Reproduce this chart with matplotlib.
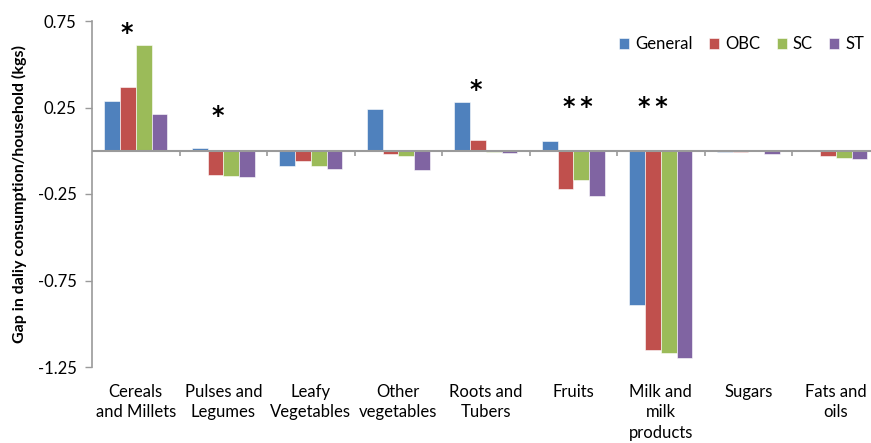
import matplotlib
matplotlib.use('Agg')
import matplotlib.pyplot as plt
import numpy as np

categories = ['Cereals\nand Millets', 'Pulses and\nLegumes', 'Leafy\nVegetables', 'Other\nvegetables',
              'Roots and\nTubers', 'Fruits', 'Milk and\nmilk\nproducts', 'Sugars', 'Fats and\noils']
series = ['General', 'OBC', 'SC', 'ST']
general = [0.29, 0.015, -0.09, 0.24, 0.28, 0.054, -0.894, -0.005, -0.002]
obc = [0.37, -0.14, -0.06, -0.017, 0.06, -0.22, -1.154, -0.005, -0.03]
sc = [0.61, -0.145, -0.09, -0.033, -0.01, -0.17, -1.167, -0.002, -0.04]
st = [0.21, -0.15, -0.105, -0.11, -0.013, -0.26, -1.20, -0.017, -0.046]
colors = ['#4F81BD', '#C0504D', '#9BBB59', '#8064A2']

# significance markers: (category index, marker text, y position)
sig_idx = [0, 1, 4, 5, 6]
sig_text = ['*', '*', '*', '*\u2009*', '*\u2009*']
sig_y = [0.68, 0.20, 0.35, 0.25, 0.25]
sig_dx = [-0.10, -0.06, -0.11, 0.05, -0.09]

yticks = [0.75, 0.25, -0.25, -0.75, -1.25]

plt.rcParams['font.family'] = ['Lato', 'DejaVu Sans']
fig = plt.figure(figsize=(8.71, 4.43), dpi=100)
ax = fig.add_axes([92 / 871, 76 / 443, 787.5 / 871, 346 / 443])

x = np.arange(len(categories))
width = 0.18
data = [general, obc, sc, st]
for i, (name, vals) in enumerate(zip(series, data)):
    ax.bar(x + (i - 1.5) * width, vals, width, color=colors[i], label=name,
           edgecolor='white', linewidth=0.4)

ax.set_xlim(-0.5, len(categories) - 0.5)
ax.set_ylim(-1.25, 0.75)
ax.set_yticks(yticks)
ax.set_yticklabels([f'{v:.2f}' for v in yticks], fontsize=12)
ax.tick_params(axis='y', length=5, color='#9A9A9A', width=1, pad=6)

ax.set_xticks(x)
ax.set_xticklabels(categories, fontsize=12, linespacing=1.35, va='top')
ax.tick_params(axis='x', length=0, pad=12)

for s in ['top', 'right', 'bottom']:
    ax.spines[s].set_visible(False)
ax.spines['left'].set_color('#9A9A9A')
ax.spines['left'].set_linewidth(1.2)

ax.axhline(0, color='#9A9A9A', linewidth=1.5, zorder=3)
bounds = np.arange(len(categories) + 1) - 0.5
ax.vlines(bounds[1:], -0.03, 0, color='#9A9A9A', linewidth=1.2)

for i, t, yv, dx in zip(sig_idx, sig_text, sig_y, sig_dx):
    ax.text(i + dx, yv, t, ha='center', va='center', fontsize=17,
            fontweight='bold', family='DejaVu Sans')

ax.set_ylabel('Gap in daliy consumption/household (kgs)', fontsize=11.5,
              fontweight='bold', labelpad=8)

fig.legend(loc='center right', bbox_to_anchor=(864 / 871, 0.90), ncol=4, frameon=False,
           fontsize=12, handlelength=0.6, handleheight=0.6, handletextpad=0.35,
           columnspacing=1.0, borderpad=0, borderaxespad=0)

fig.savefig('out.png', dpi=100)
